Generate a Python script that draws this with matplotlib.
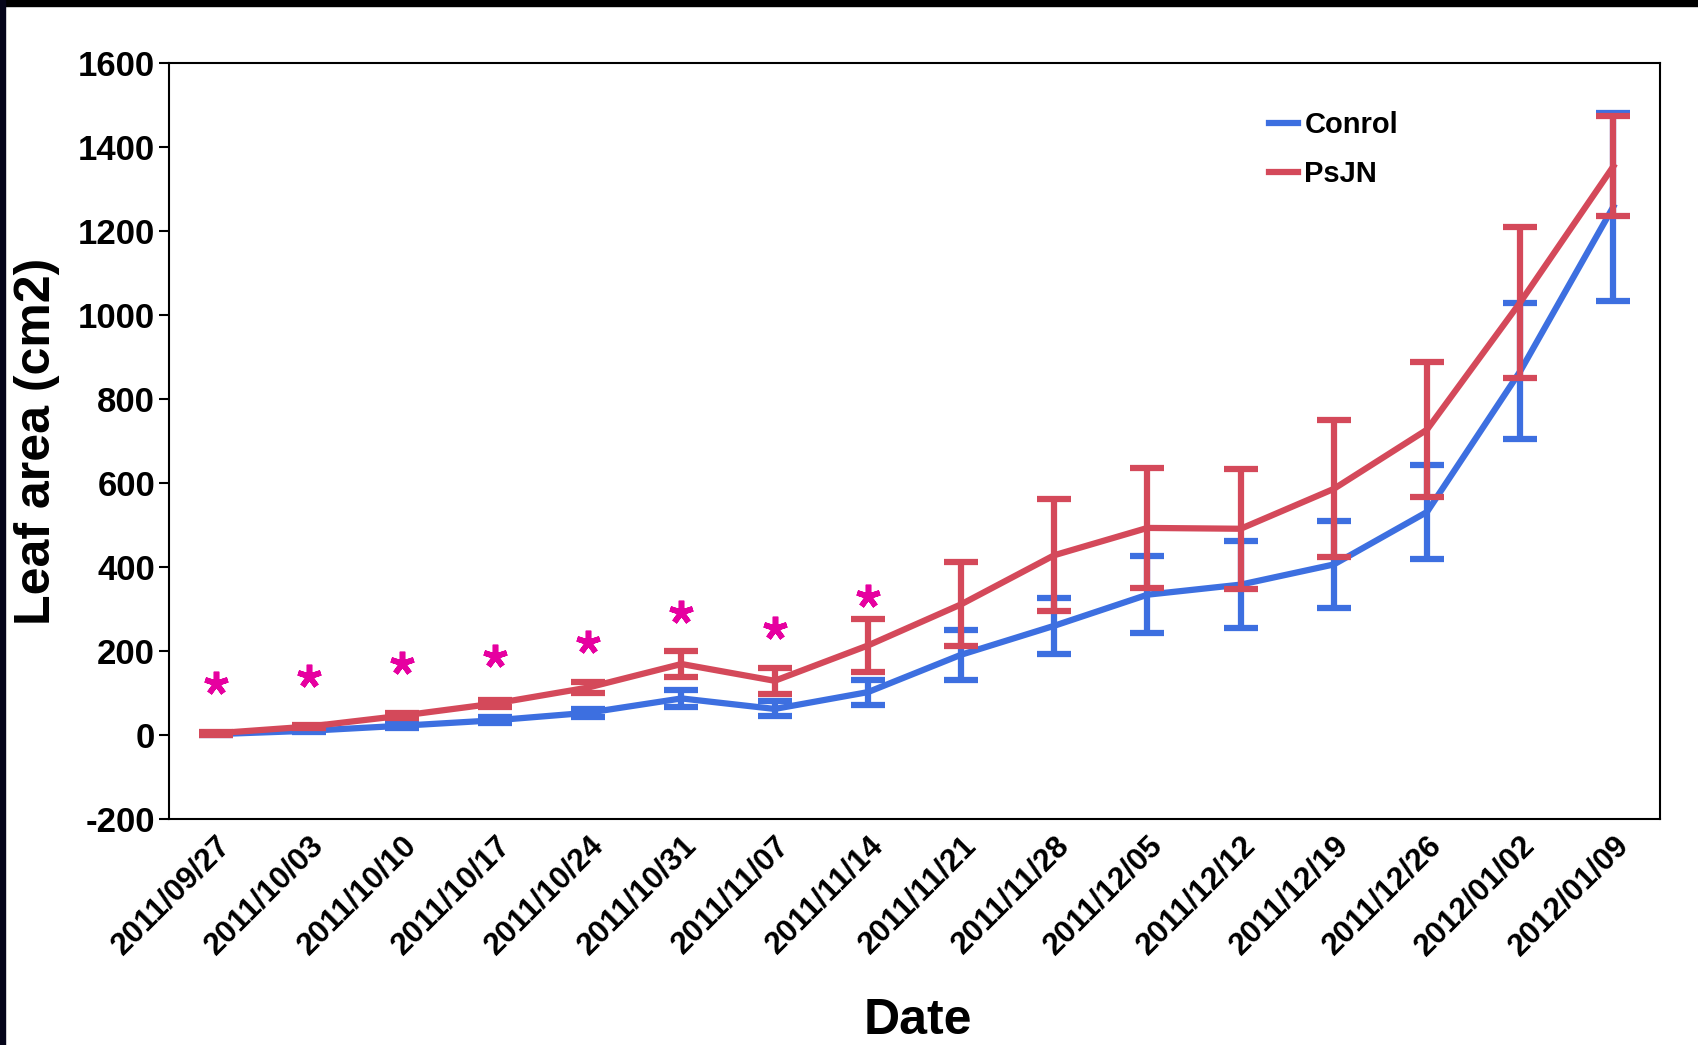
import numpy as np
import matplotlib
matplotlib.use('Agg')
import matplotlib.pyplot as plt
from matplotlib.patches import Rectangle
from matplotlib.lines import Line2D

plt.rcParams['axes.unicode_minus'] = False

dates = ['2011/09/27', '2011/10/03', '2011/10/10', '2011/10/17', '2011/10/24',
         '2011/10/31', '2011/11/07', '2011/11/14', '2011/11/21', '2011/11/28',
         '2011/12/05', '2011/12/12', '2011/12/19', '2011/12/26', '2012/01/02',
         '2012/01/09']

control = [2, 10, 22, 35, 53, 87, 62, 102, 191, 260, 334, 358, 406, 531, 866, 1258]
control_err = [2, 3, 5, 7, 10, 21, 18, 30, 59, 67, 92, 103, 104, 113, 162, 224]

psjn = [4, 20, 46, 75, 113, 169, 129, 213, 311, 428, 493, 491, 586, 727, 1030, 1354]
psjn_err = [3, 4, 6, 8, 13, 32, 31, 63, 100, 134, 142, 143, 163, 160, 180, 119]

# significance stars over the first 8 dates
star_y = [124, 140, 172, 188, 222, 293, 254, 332]

blue = '#3d6fe0'
red = '#d4495a'
font = 'Liberation Sans'

fig = plt.figure(figsize=(16.98, 10.45), dpi=100)
fig.patches.append(Rectangle((0, 1 - 6/1045), 1, 6/1045, transform=fig.transFigure,
                             color='black', zorder=10))
fig.patches.append(Rectangle((0, 0), 5/1698, 1, transform=fig.transFigure,
                             color='#05051a', zorder=10))

ax = fig.add_axes([0.0995, 0.2163, 0.8781, 0.7234])
x = np.arange(len(dates))

ax.errorbar(x, control, yerr=control_err, color=blue, lw=4.5, elinewidth=4.5,
            capsize=12.5, capthick=4.5, zorder=3)
ax.errorbar(x, psjn, yerr=psjn_err, color=red, lw=4.5, elinewidth=4.5,
            capsize=12.5, capthick=4.5, zorder=4)

ax.plot(x[:len(star_y)], star_y, ls='none', marker=(5, 2, 0), ms=17, mew=4,
        color='#e600a0', zorder=5)

ax.set_xlim(-0.5, 15.5)
ax.set_ylim(-200, 1600)
ax.set_yticks(np.arange(-200, 1601, 200))
ax.set_xticks(x)
ax.set_xticklabels(dates, rotation=45, ha='right', rotation_mode='anchor',
                   fontsize=22.5, fontweight='bold', family=font)
for t in ax.get_yticklabels():
    t.set_fontsize(25)
    t.set_fontweight('bold')
    t.set_family(font)
ax.tick_params(axis='x', length=0, pad=8)
ax.tick_params(axis='y', length=7, width=1.5, pad=3)
for s in ax.spines.values():
    s.set_linewidth(1.5)

ax.set_xlabel('Date', fontsize=36, fontweight='bold', family=font)
ax.xaxis.set_label_coords(0.502, -0.237)
ax.set_ylabel('Leaf area (cm2)', fontsize=36, fontweight='bold', family=font)
ax.yaxis.set_label_coords(-0.073, 0.499)

handles = [Line2D([], [], color=blue, lw=4.5), Line2D([], [], color=red, lw=4.5)]
ax.legend(handles, ['Conrol', 'PsJN'], loc='upper left',
          bbox_to_anchor=(0.738, 0.936), frameon=False, borderpad=0,
          borderaxespad=0, handlelength=1.0, handletextpad=0.2, labelspacing=0.72,
          prop={'family': font, 'size': 21, 'weight': 'bold'})

fig.savefig('out.png', dpi=100, facecolor='white')
